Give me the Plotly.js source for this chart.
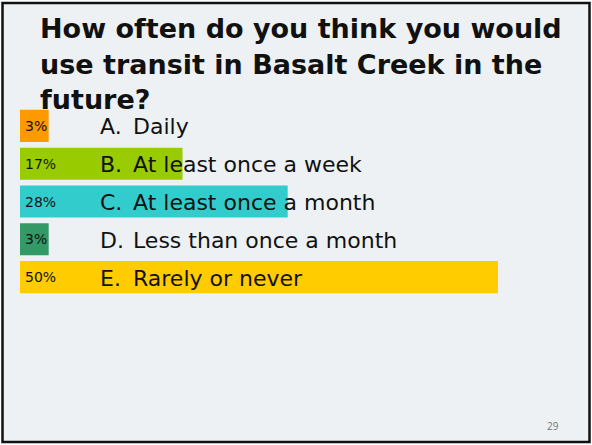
<!DOCTYPE html>
<html>
<head>
<meta charset="utf-8">
<script src="https://cdn.plot.ly/plotly-3.0.1.min.js"></script>
<style>
html,body{margin:0;padding:0;background:#fff;}
#chart{width:592px;height:445px;}
</style>
</head>
<body>
<div id="chart"></div>
<script>
var titleLines = ["How often do you think you would", "use transit in Basalt Creek in the", "future?"];
var letters = ["A.", "B.", "C.", "D.", "E."];
var categories = ["Daily", "At least once a week", "At least once a month", "Less than once a month", "Rarely or never"];
var values = [3, 17, 28, 3, 50];
var barColors = ["#FF9900", "#99CC00", "#33CCCC", "#339966", "#FFCC00"];
var pageNumber = "29";

var W = 592, H = 445;
var mL = 20, mR = 0, mT = 107, mB = 149;
var pw = W - mL - mR, ph = H - mT - mB;
function px(x){ return (x - mL) / pw; }
function py(y){ return (H - mB - y) / ph; }

var trace = {
  type: "bar",
  orientation: "h",
  x: values,
  y: categories,
  marker: {color: barColors, line: {width: 0}},
  hoverinfo: "none",
  showlegend: false
};

var annotations = [];
titleLines.forEach(function(t, i){
  annotations.push({
    xref: "paper", yref: "paper",
    x: px(38), y: py([29, 64, 99][i]),
    xanchor: "left", yanchor: "middle",
    text: "<b>" + t + "</b>", showarrow: false,
    font: {family: "'DejaVu Sans', sans-serif", size: 27, color: "#111111"}
  });
});
categories.forEach(function(c, i){
  annotations.push({
    xref: "x", yref: "y", x: 0, y: c, xanchor: "left", yanchor: "middle", xshift: 3,
    text: values[i] + "%", showarrow: false,
    font: {family: "'DejaVu Sans', sans-serif", size: 14, color: "#111111"}
  });
  annotations.push({
    xref: "paper", yref: "y", x: px(98), y: c, xanchor: "left", yanchor: "middle", yshift: -1,
    text: letters[i], showarrow: false,
    font: {family: "'DejaVu Sans', sans-serif", size: 22, color: "#111111"}
  });
  annotations.push({
    xref: "paper", yref: "y", x: px(131), y: c, xanchor: "left", yanchor: "middle", yshift: -1,
    text: c, showarrow: false,
    font: {family: "'DejaVu Sans', sans-serif", size: 22, color: "#111111"}
  });
});
annotations.push({
  xref: "paper", yref: "paper", x: px(561), y: py(426), xanchor: "right", yanchor: "middle",
  text: pageNumber, showarrow: false,
  font: {family: "'Open Sans', sans-serif", size: 10, color: "#777777"}
});

var layout = {
  width: W, height: H,
  margin: {l: mL, r: mR, t: mT, b: mB, pad: 0},
  paper_bgcolor: "#ffffff",
  plot_bgcolor: "rgba(0,0,0,0)",
  bargap: 0.15,
  xaxis: {range: [0, pw / 9.56], visible: false, fixedrange: true},
  yaxis: {type: "category", categoryorder: "array", categoryarray: categories, range: [4.5, -0.5], visible: false, fixedrange: true},
  shapes: [{
    type: "rect", xref: "paper", yref: "paper", layer: "below",
    x0: px(2.5), x1: px(589.5), y0: py(3), y1: py(442),
    fillcolor: "#edf1f4", line: {color: "#111111", width: 2.5}
  }],
  annotations: annotations
};

Plotly.newPlot("chart", [trace], layout, {displayModeBar: false, staticPlot: true});
</script>
</body>
</html>
